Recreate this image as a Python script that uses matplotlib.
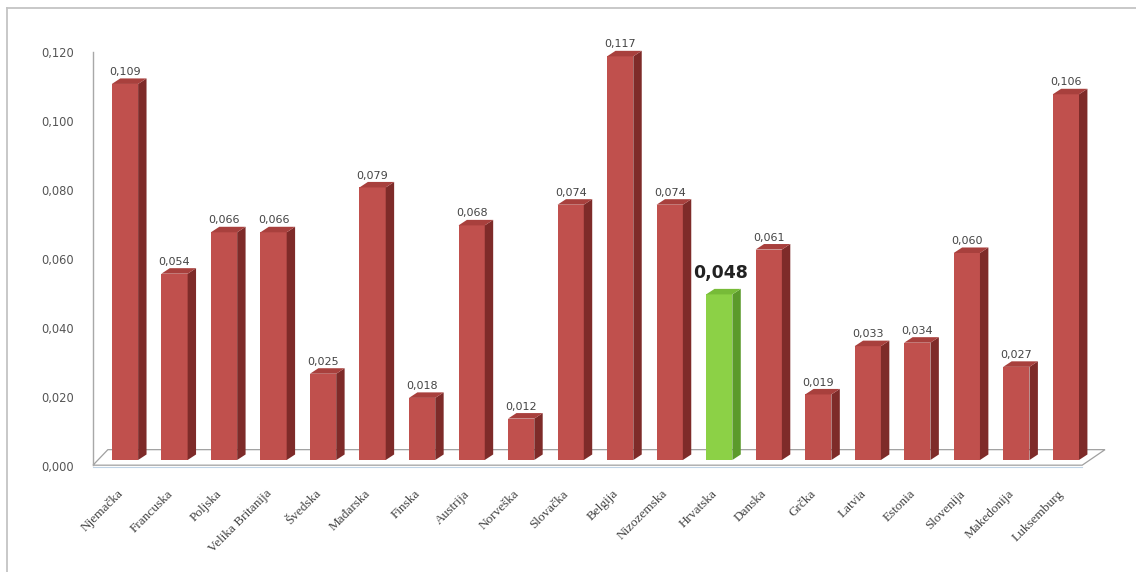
import matplotlib
matplotlib.use("Agg")
import matplotlib.pyplot as plt
from matplotlib.patches import Polygon
from matplotlib.lines import Line2D
from matplotlib.transforms import ScaledTranslation

categories = ["Njemačka", "Francuska", "Poljska", "Velika Britanija", "Švedska",
              "Mađarska", "Finska", "Austrija", "Norveška", "Slovačka", "Belgija",
              "Nizozemska", "Hrvatska", "Danska", "Grčka", "Latvia", "Estonia",
              "Slovenija", "Makedonija", "Luksemburg"]
values = [0.109, 0.054, 0.066, 0.066, 0.025, 0.079, 0.018, 0.068, 0.012, 0.074,
          0.117, 0.074, 0.048, 0.061, 0.019, 0.033, 0.034, 0.060, 0.027, 0.106]
highlight = "Hrvatska"
yticks = [0.0, 0.02, 0.04, 0.06, 0.08, 0.10, 0.12]

fig = plt.figure(figsize=(11.36, 5.72), dpi=100)
W, H = 1136, 572
ax = fig.add_axes([93 / W, 1 - 460 / H, 1012 / W, 414 / H])
ax.set_xlim(-0.646, 19.79)
ax.set_ylim(0, 0.12)
for s in ax.spines.values():
    s.set_visible(False)

w = 0.53
dx = 0.17
dy = 0.0016
red = ("#C0504D", "#7E2B29", "#A8403D")
green = ("#8CD146", "#5B9A2B", "#77BB38")

# floor
fx0, fx1 = -0.646, 19.33
floor = Polygon([(fx0, -0.0015), (fx1, -0.0015), (fx1 + 0.46, 0.003), (fx0 + 0.30, 0.003)],
                closed=True, facecolor="white", edgecolor="#A0A0A0", lw=0.9,
                zorder=1, clip_on=False)
ax.add_patch(floor)
ax.plot([fx0, fx1], [-0.0019, -0.0019], color="#BFD3E6", lw=0.8, clip_on=False, zorder=1)
ax.plot([fx0, fx0], [-0.0015, 0.1183], color="#A8A8A8", lw=1.0, clip_on=False, zorder=1)

xs = list(range(len(categories)))
for x, v, c in zip(xs, values, categories):
    fr, sd, tp = green if c == highlight else red
    ax.bar(x, v, width=w, color=fr, zorder=3, linewidth=0)
    r = x + w / 2
    l = x - w / 2
    ax.add_patch(Polygon([(r, 0), (r + dx, dy), (r + dx, v + dy), (r, v)],
                         closed=True, facecolor=sd, edgecolor="none", zorder=3))
    ax.add_patch(Polygon([(l, v), (l + dx, v + dy), (r + dx, v + dy), (r, v)],
                         closed=True, facecolor=tp, edgecolor="none", zorder=3))
    lab = f"{v:.3f}".replace(".", ",")
    if c == highlight:
        ax.annotate(lab, (x + 0.02, v), xytext=(0, 9), textcoords="offset points",
                    ha="center", va="bottom", fontsize=12.5, fontweight="bold",
                    color="#222222", zorder=5)
    else:
        ax.annotate(lab, (x, v), xytext=(0, 5), textcoords="offset points",
                    ha="center", va="bottom", fontsize=8, color="#444444", zorder=5)

ax.set_yticks(yticks)
ax.set_yticklabels([f"{t:.3f}".replace(".", ",") for t in yticks],
                   fontsize=8.3, color="#555555")
ax.tick_params(axis="y", length=0, pad=14)
off_y = ScaledTranslation(0, -6 / 100, fig.dpi_scale_trans)
for t in ax.get_yticklabels():
    t.set_transform(t.get_transform() + off_y)

ax.set_xticks(xs)
ax.set_xticklabels(categories, rotation=45, ha="right", rotation_mode="anchor",
                   fontsize=9.5, family="Liberation Serif", color="#444444")
ax.tick_params(axis="x", length=0, pad=20)
off_x = ScaledTranslation(-8 / 100, 0, fig.dpi_scale_trans)
for t in ax.get_xticklabels():
    t.set_transform(t.get_transform() + off_x)

# outer frame
fig.add_artist(Line2D([7 / W, 1.0], [1 - 8 / H, 1 - 8 / H], transform=fig.transFigure,
                      color="#C4C4C4", lw=1.3))
fig.add_artist(Line2D([7 / W, 7 / W], [0.0, 1 - 8 / H], transform=fig.transFigure,
                      color="#C4C4C4", lw=1.3))

fig.savefig("out.png", dpi=100)
